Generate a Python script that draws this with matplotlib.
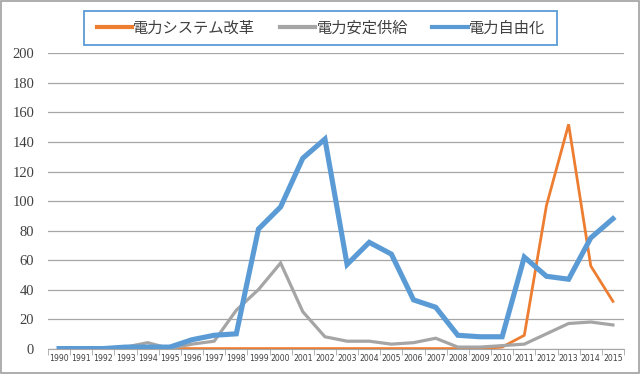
import matplotlib
matplotlib.use("Agg")
import matplotlib.pyplot as plt
from matplotlib.patches import Rectangle
import numpy as np

plt.rcParams['font.family'] = ['Noto Sans CJK JP', 'DejaVu Sans']

years = list(range(1990, 2016))
labels = [str(y) for y in years]

# 電力システム改革
reform = [0, 0, 0, 0, 0, 0, 0, 0, 0, 0, 0, 0, 0, 0, 0, 0, 0, 0, 0, 0,
          1, 9, 97, 152, 56, 32]
# 電力安定供給
supply = [0, 0, 0, 1, 4, 0, 3, 5, 26, 40, 58, 25, 8, 5, 5, 3, 4, 7, 1, 1,
          2, 3, 10, 17, 18, 16]
# 電力自由化
liberal = [0, 0, 0, 1, 1, 1, 6, 9, 10, 81, 96, 129, 142, 57, 72, 64, 33, 28, 9, 8,
           8, 62, 49, 47, 75, 88]

series_names = ['電力システム改革', '電力安定供給', '電力自由化']
colors = ['#ed7d31', '#a5a5a5', '#5b9bd5']
widths = [2.0, 2.3, 3.7]

W, H = 640, 374
fig = plt.figure(figsize=(W / 100, H / 100), dpi=100)
ax = fig.add_axes([0.075, 0.068, 0.9, 0.789])

x = np.arange(len(years))
for vals, name, c, w in zip([reform, supply, liberal], series_names, colors, widths):
    ax.plot(x, vals, color=c, lw=w, label=name, solid_joinstyle='miter')

ax.set_xlim(-0.5, len(years) - 0.5)
ax.set_ylim(0, 200)
ax.set_yticks(range(0, 201, 20))
ax.grid(axis='y', color='#a6a6a6', lw=0.9)
ax.set_axisbelow(True)

ax.set_xticks(x)
ax.set_xticklabels(labels, fontsize=5.6, family='DejaVu Sans')
ax.set_xticks(np.arange(-0.5, len(years), 1), minor=True)
ax.tick_params(axis='x', which='major', length=0, pad=4, colors='#404040')
ax.tick_params(axis='x', which='minor', length=4, color='#a6a6a6')
ax.tick_params(axis='y', length=0, pad=10)
for t in ax.get_yticklabels():
    t.set_family('Liberation Serif')
    t.set_fontsize(10.5)
    t.set_color('#404040')

for s in ['top', 'right', 'left']:
    ax.spines[s].set_visible(False)
ax.spines['bottom'].set_color('#a6a6a6')

leg = fig.legend(loc='center', bbox_to_anchor=(321 / W, 1 - 28 / H), ncol=3, fontsize=11,
                 frameon=False, handlelength=2.3, handletextpad=0.1,
                 columnspacing=1.6)
for t in leg.get_texts():
    t.set_color('#404040')
for h in leg.get_lines():
    h.set_linewidth(3.0)

# legend box drawn separately (wider side padding than matplotlib's)
fig.patches.append(Rectangle((84 / W, 1 - 45 / H), (557 - 84) / W, 34 / H,
                             transform=fig.transFigure, fill=False,
                             edgecolor='#5b9bd5', lw=1.3))

fig.patches.append(Rectangle((0.001, 0.002), 0.997, 0.995, transform=fig.transFigure,
                             fill=False, edgecolor='#a0a0a0', lw=1.2))

fig.savefig('out.png', dpi=100)
